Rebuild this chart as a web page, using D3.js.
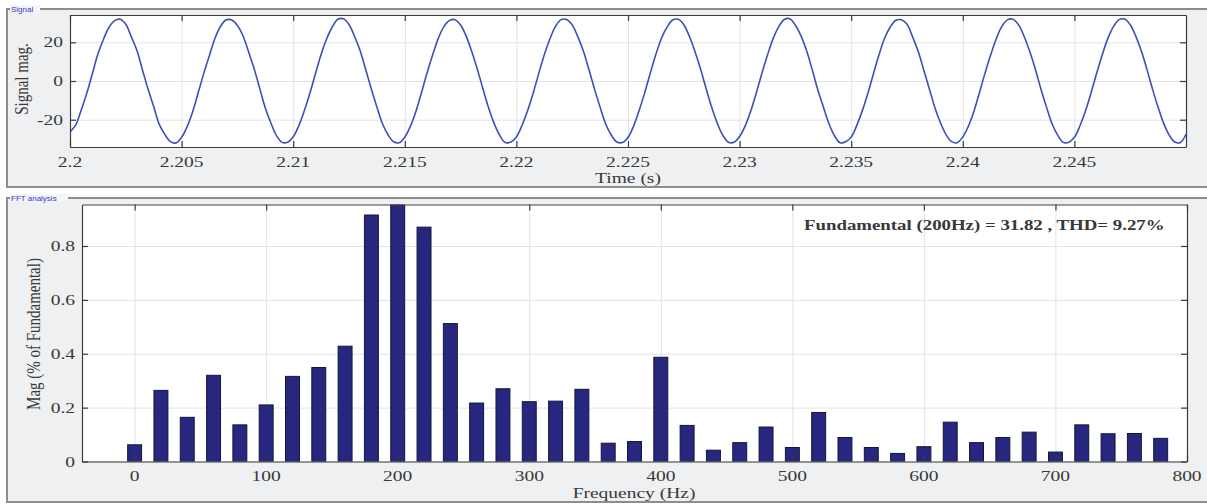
<!DOCTYPE html>
<html lang="en">
<head>
<meta charset="utf-8">
<title>Signal and FFT analysis</title>
<script src="https://d3js.org/d3.v7.min.js"></script>
<style type="text/css">
  body { margin: 0; background: #fff; }
  svg { display: block; }
  text.serif { font-family: "Liberation Serif", "Times New Roman", serif; fill: #383838; }
  text.tag { font-family: "Liberation Sans", Arial, sans-serif; font-size: 8px; fill: #3535c8; }
</style>
</head>
<body>
<script type="text/javascript">

// signal samples, every 0.25 ms starting at 2.2 s
var sigStart = 2.2;
var sigStep = 0.00025;
var signal = [
  -26.3, -22.8, -15.1, -6.4, 3.7, 13.9, 21.6, 27.8, 31.2, 31.9, 29.3, 22.7, 15.8, 5.6, -4.3, -13.2, -22.4, -27.6, -31.3, -32.0,
  -29.1, -23.5, -15.7, -5.8, 4.2, 13.3, 22.2, 28.3, 31.6, 31.5, 28.7, 23.4, 15.1, 6.3, -3.8, -13.9, -21.7, -28.2, -31.7, -31.6,
  -28.8, -23.1, -15.3, -6.2, 3.9, 13.7, 21.8, 27.9, 31.9, 32.1, 29.2, 23.0, 15.6, 5.8, -4.1, -13.4, -22.1, -27.8, -31.4, -31.9,
  -29.0, -23.4, -15.6, -5.9, 4.3, 13.5, 22.0, 28.1, 31.3, 31.7, 28.9, 23.2, 15.2, 6.1, -4.0, -13.7, -21.9, -28.0, -31.8, -31.5,
  -28.9, -23.0, -15.4, -6.3, 3.8, 13.6, 21.7, 28.2, 31.7, 31.8, 29.0, 22.9, 15.5, 5.9, -4.2, -13.5, -22.2, -27.9, -31.5, -31.8,
  -29.2, -23.3, -15.2, -6.0, 4.1, 13.8, 22.1, 27.8, 31.5, 31.9, 29.1, 23.1, 15.3, 6.2, -3.9, -13.6, -21.8, -28.1, -31.6, -31.7,
  -28.7, -23.2, -15.5, -6.1, 4.0, 13.4, 21.9, 28.0, 31.8, 32.2, 28.8, 23.3, 15.7, 6.0, -4.4, -13.3, -22.0, -28.3, -31.9, -31.4,
  -29.0, -22.9, -15.3, -6.2, 3.9, 13.7, 22.2, 27.9, 31.4, 31.6, 29.3, 22.8, 15.4, 5.7, -4.0, -13.8, -21.6, -27.7, -31.3, -31.9,
  -28.9, -23.4, -15.6, -5.8, 4.2, 13.5, 21.8, 28.2, 31.6, 31.9, 29.0, 23.0, 15.2, 6.1, -4.1, -13.5, -22.1, -28.0, -31.7, -31.6,
  -29.1, -23.1, -15.4, -6.0, 4.1, 13.6, 22.0, 28.1, 31.7, 32.0, 29.1, 23.2, 15.5, 6.0, -4.2, -13.6, -21.9, -28.0, -31.5, -31.8,
  -27.5
];
var timeTicks = [2.2, 2.205, 2.21, 2.215, 2.22, 2.225, 2.23, 2.235, 2.24, 2.245];
var timeLabels = ["2.2", "2.205", "2.21", "2.215", "2.22", "2.225", "2.23", "2.235", "2.24", "2.245"];
var sigTicks = [-20, 0, 20];
var sigLabels = ["-20", "0", "20"];

// FFT bars
var freqs = [0, 20, 40, 60, 80, 100, 120, 140, 160, 180, 200, 220, 240, 260, 280, 300, 320, 340, 360, 380,
             400, 420, 440, 460, 480, 500, 520, 540, 560, 580, 600, 620, 640, 660, 680, 700, 720, 740, 760, 780];
var mags = [0.062, 0.264, 0.164, 0.320, 0.136, 0.210, 0.316, 0.349, 0.428, 0.915, 1.0, 0.870, 0.512, 0.217, 0.270, 0.222, 0.224, 0.268, 0.068, 0.074,
            0.387, 0.134, 0.042, 0.070, 0.128, 0.052, 0.182, 0.089, 0.052, 0.030, 0.055, 0.146, 0.070, 0.089, 0.109, 0.035, 0.136, 0.103, 0.104, 0.086];
var freqTicks = [0, 100, 200, 300, 400, 500, 600, 700, 800];
var freqLabels = ["0", "100", "200", "300", "400", "500", "600", "700", "800"];
var magTicks = [0, 0.2, 0.4, 0.6, 0.8];
var magLabels = ["0", "0.2", "0.4", "0.6", "0.8"];
var fftNote = "Fundamental (200Hz) = 31.82 , THD= 9.27%";

var w = 1207, h = 504;
var SX = 1.3; // the picture's text is widened horizontally

var svg = d3.select("body").append("svg")
    .attr("width", w)
    .attr("height", h);

function label(x, y, txt, anchor, size, weight) {
    return svg.append("text")
        .attr("class", "serif")
        .attr("transform", "translate(" + x + "," + y + ") scale(" + SX + ",1)")
        .attr("text-anchor", anchor)
        .style("font-size", size + "px")
        .style("font-weight", weight || "normal")
        .text(txt);
}

function vlabel(x, y, txt, size) {
    return svg.append("text")
        .attr("class", "serif")
        .attr("transform", "translate(" + x + "," + y + ") scale(" + SX + ",1) rotate(-90)")
        .attr("text-anchor", "middle")
        .style("font-size", size + "px")
        .text(txt);
}

function panel(y, ph, tag, tagW) {
    svg.append("rect")
        .attr("x", 7).attr("y", y)
        .attr("width", w + 20).attr("height", ph)
        .style("fill", "#eef0f2")
        .style("stroke", "#8d8d8d")
        .style("stroke-width", 2);
    svg.append("rect")
        .attr("x", 10).attr("y", y - 4)
        .attr("width", tagW).attr("height", 8)
        .style("fill", "#f4f5f7");
    svg.append("text")
        .attr("class", "tag")
        .attr("x", 11).attr("y", y + 3)
        .text(tag);
}

// white plot box with light grid
function frame(x, y, xt, yt, id) {
    var x0 = x.range()[0], x1 = x.range()[1];
    var y0 = y.range()[0], y1 = y.range()[1];
    var g = svg.append("g");
    g.append("rect")
        .attr("x", x0).attr("y", y1)
        .attr("width", x1 - x0).attr("height", y0 - y1)
        .style("fill", "#fff");

    g.append("g").attr("transform", "translate(0," + y0 + ")")
        .call(d3.axisBottom(x).tickValues(xt).tickSize(-(y0 - y1)).tickFormat(""))
        .call(function(s) { s.select(".domain").remove(); s.selectAll("line").style("stroke", "#e3e3e3"); });
    g.append("g").attr("transform", "translate(" + x0 + ",0)")
        .call(d3.axisLeft(y).tickValues(yt).tickSize(-(x1 - x0)).tickFormat(""))
        .call(function(s) { s.select(".domain").remove(); s.selectAll("line").style("stroke", "#e3e3e3"); });

    svg.append("defs").append("clipPath").attr("id", id)
        .append("rect")
        .attr("x", x0).attr("y", y1)
        .attr("width", x1 - x0).attr("height", y0 - y1);
    return g;
}

// box outline with inward ticks on all four sides
function box(x, y, xt, yt) {
    var x0 = x.range()[0], x1 = x.range()[1];
    var y0 = y.range()[0], y1 = y.range()[1];
    var g = svg.append("g");
    var style = function(s) {
        s.selectAll("line, path").style("stroke", "#3c3c3c").style("stroke-width", 1.2);
    };
    g.append("g").attr("transform", "translate(0," + y0 + ")")
        .call(d3.axisBottom(x).tickValues(xt).tickSize(-6).tickSizeOuter(0).tickFormat("")).call(style);
    g.append("g").attr("transform", "translate(0," + y1 + ")")
        .call(d3.axisTop(x).tickValues(xt).tickSize(-6).tickSizeOuter(0).tickFormat("")).call(style);
    g.append("g").attr("transform", "translate(" + x0 + ",0)")
        .call(d3.axisLeft(y).tickValues(yt).tickSize(-6).tickSizeOuter(0).tickFormat("")).call(style);
    g.append("g").attr("transform", "translate(" + x1 + ",0)")
        .call(d3.axisRight(y).tickValues(yt).tickSize(-6).tickSizeOuter(0).tickFormat("")).call(style);
}

// ---------- Signal panel ----------
panel(9, 178, "Signal", 30);

var xT = d3.scaleLinear().domain([2.2, 2.25]).range([70, 1186]);
var yS = d3.scaleLinear().domain([-34.1, 34.1]).range([147, 15]);

frame(xT, yS, timeTicks, sigTicks, "clipSig");

var line = d3.line()
    .x(function(d, i) { return xT(sigStart + i * sigStep); })
    .y(function(d) { return yS(d); })
    .curve(d3.curveCatmullRom);

svg.append("path")
    .datum(signal)
    .attr("clip-path", "url(#clipSig)")
    .attr("d", line)
    .style("fill", "none")
    .style("stroke", "#3d4fb8")
    .style("stroke-width", 1.6);

box(xT, yS, timeTicks, sigTicks);

timeTicks.forEach(function(t, i) { label(xT(t), 167, timeLabels[i], "middle", 15); });
sigTicks.forEach(function(v, i) { label(63, yS(v) + 5, sigLabels[i], "end", 15); });
label(628, 183, "Time (s)", "middle", 15);
vlabel(28, 79, "Signal mag.", 15);

// ---------- FFT panel ----------
panel(198, 304, "FFT analysis", 58);

var xF = d3.scaleLinear().domain([-40, 800]).range([82, 1187]);
var yM = d3.scaleLinear().domain([0, 0.954]).range([461.5, 204.5]);

frame(xF, yM, freqTicks, magTicks, "clipFft");

var bw = (xF(20) - xF(0)) * 0.53;
svg.append("g")
    .attr("clip-path", "url(#clipFft)")
    .selectAll("rect")
    .data(freqs)
    .enter()
    .append("rect")
    .attr("x", function(d) { return xF(d) - bw / 2; })
    .attr("y", function(d, i) { return yM(mags[i]); })
    .attr("width", bw)
    .attr("height", function(d, i) { return yM(0) - yM(mags[i]); })
    .style("fill", "#27277f")
    .style("stroke", "#15153a")
    .style("stroke-width", 1);

box(xF, yM, freqTicks, magTicks);

label(804, 230, fftNote, "start", 14.5, "bold");

freqTicks.forEach(function(f, i) { label(xF(f), 481, freqLabels[i], "middle", 15); });
magTicks.forEach(function(v, i) { label(75, yM(v) + 5, magLabels[i], "end", 15); });
label(634, 498, "Frequency (Hz)", "middle", 15);
vlabel(40, 334, "Mag (% of Fundamental)", 15);

</script>
</body>
</html>
